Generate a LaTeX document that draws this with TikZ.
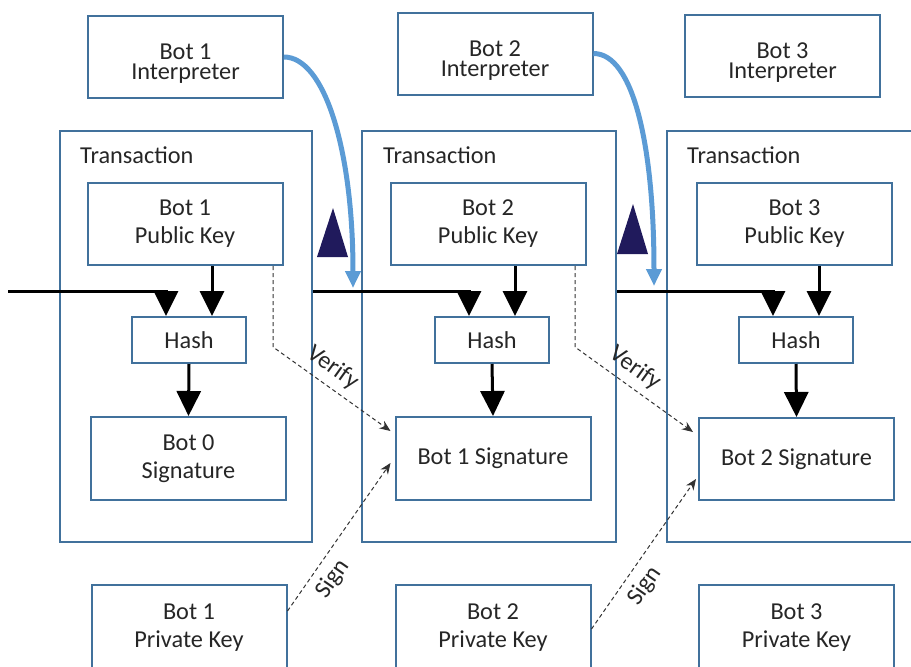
\documentclass[tikz,border=0pt]{standalone}
\usepackage{fontspec}
\setmainfont{Carlito}
\usetikzlibrary{arrows.meta,positioning,calc}
\definecolor{framecol}{RGB}{65,113,156}
\definecolor{linkcol}{RGB}{91,155,213}
\definecolor{markcol}{RGB}{32,26,92}
\definecolor{inkcol}{RGB}{38,38,38}
\definecolor{dashcol}{RGB}{50,50,50}
\tikzset{
  blk/.style={draw=framecol, line width=2pt, inner sep=0pt, align=center, text=inkcol, minimum width=195pt, minimum height=82pt, font=\fontsize{24.3}{28}\selectfont},
  tlbl/.style={align=center, inner sep=0pt, text=inkcol, yshift=-7pt, font=\fontsize{24.3}{20}\selectfont},
  hsh/.style={blk, minimum width=114pt, minimum height=46pt},
  trbox/.style={draw=framecol, line width=2pt, inner sep=0pt, minimum width=#1, minimum height=411pt},
  ttl/.style={anchor=base west, inner sep=0pt, text=inkcol, font=\fontsize{24.3}{28}\selectfont},
  flow/.style={line width=3pt, -{Triangle[width=24pt,length=25pt]}},
  check/.style={dashcol, line width=1pt, dash pattern=on 4pt off 3pt, -{Stealth[length=11pt,width=9pt]}},
  link/.style={linkcol, line width=5pt, -{Triangle[width=15pt,length=17pt]}},
  lbl/.style={text=inkcol, font=\fontsize{24.3}{28}\selectfont, inner sep=2pt}
}
\begin{document}
\begin{tikzpicture}[x=1pt,y=-1pt]
\useasboundingbox (0,0) rectangle (911,667);

\node[trbox=252pt] (tr1) at (186,336.5) {};
\node[trbox=254pt] (tr2) at (489,336.5) {};
\node[trbox=248pt] (tr3) at (791,336.5) {};
\node[ttl] (tt1) at (80,163) {Transaction};
\node[ttl] (tt2) at (383,163) {Transaction};
\node[ttl] (tt3) at (687,163) {Transaction};

\node[blk, label={[tlbl]center:{Bot 1\\Interpreter}}] (int1) at (185.5,57) {};
\node[blk, label={[tlbl]center:{Bot 2\\Interpreter}}] (int2) at (495,53.5) {};
\node[blk, label={[tlbl]center:{Bot 3\\Interpreter}}] (int3) at (782.5,56) {};

\node[blk] (pub1) at (185,224) {Bot 1\\Public Key};
\node[blk] (pub2) at (488,224) {Bot 2\\Public Key};
\node[blk] (pub3) at (794.5,224) {Bot 3\\Public Key};

\node[hsh] (hash1) at (189,340) {Hash};
\node[hsh] (hash2) at (492,340) {Hash};
\node[hsh] (hash3) at (796,340) {Hash};

\node[blk, minimum height=83pt] (sig0) at (188.5,458.5) {Bot 0\\Signature};
\node[blk, minimum height=83pt] (sig1) at (493,458.5) {Bot 1 Signature};
\node[blk] (sig2) at (796.5,459) {Bot 2 Signature};

\node[blk, minimum height=86pt] (prk1) at (189,628) {Bot 1\\Private Key};
\node[blk, minimum height=86pt] (prk2) at (493,628) {Bot 2\\Private Key};
\node[blk, minimum height=86pt] (prk3) at (796.5,628) {Bot 3\\Private Key};

\fill[markcol] (333,208) -- (317,257) -- (348,257) -- cycle;
\fill[markcol] (633,204) -- (617,254) -- (648,254) -- cycle;

\coordinate (src) at (8,291);
\coordinate (a1) at ($(hash1.north)+(-23,0)$);
\coordinate (a2) at ($(hash2.north)+(-23,0)$);
\coordinate (a3) at ($(hash3.north)+(-23,0)$);
\coordinate (b1) at ($(hash1.north)+(23,0)$);
\coordinate (b2) at ($(hash2.north)+(23,0)$);
\coordinate (b3) at ($(hash3.north)+(23,0)$);
\draw[flow] (src) -| (a1);
\draw[flow] (tr1.east |- src) -| (a2);
\draw[flow] (tr2.east |- src) -| (a3);
\draw[flow] (pub1.south -| b1) -- (b1);
\draw[flow] (pub2.south -| b2) -- (b2);
\draw[flow] (pub3.south -| b3) -- (b3);
\draw[flow] (hash1.south) -- (sig0.north);
\draw[flow] (hash2.south) -- (sig1.north);
\draw[flow] (hash3.south) -- (sig2.north);

\coordinate (v1) at (273,347);
\coordinate (v2) at (575,347);
\draw[check] (pub1.south -| v1) -- (v1) -- ($(sig1.north west)+(-4,15)$) node[pos=0.42, sloped, above=5pt, lbl] {Verify};
\draw[check] (pub2.south -| v2) -- (v2) -- ($(sig2.north west)+(-5,15)$) node[pos=0.42, sloped, above=5pt, lbl] {Verify};
\draw[check] ($(prk1.north east)+(0,27)$) -- ($(sig1.west)+(-4,4.5)$) node[pos=0.29, sloped, below=6pt, lbl] {Sign};
\draw[check] ($(prk2.north east)+(0,45)$) -- ($(sig2.west)+(-2,20)$) node[pos=0.36, sloped, below=6pt, lbl] {Sign};

\coordinate (drop1) at (353,288);
\coordinate (drop2) at (654,286);
\draw[link] (int1.east) .. controls +(40,0) and +(0,-140) .. (drop1);
\draw[link] (int2.east) .. controls +(40,0) and +(0,-140) .. (drop2);

\end{tikzpicture}
\end{document}
